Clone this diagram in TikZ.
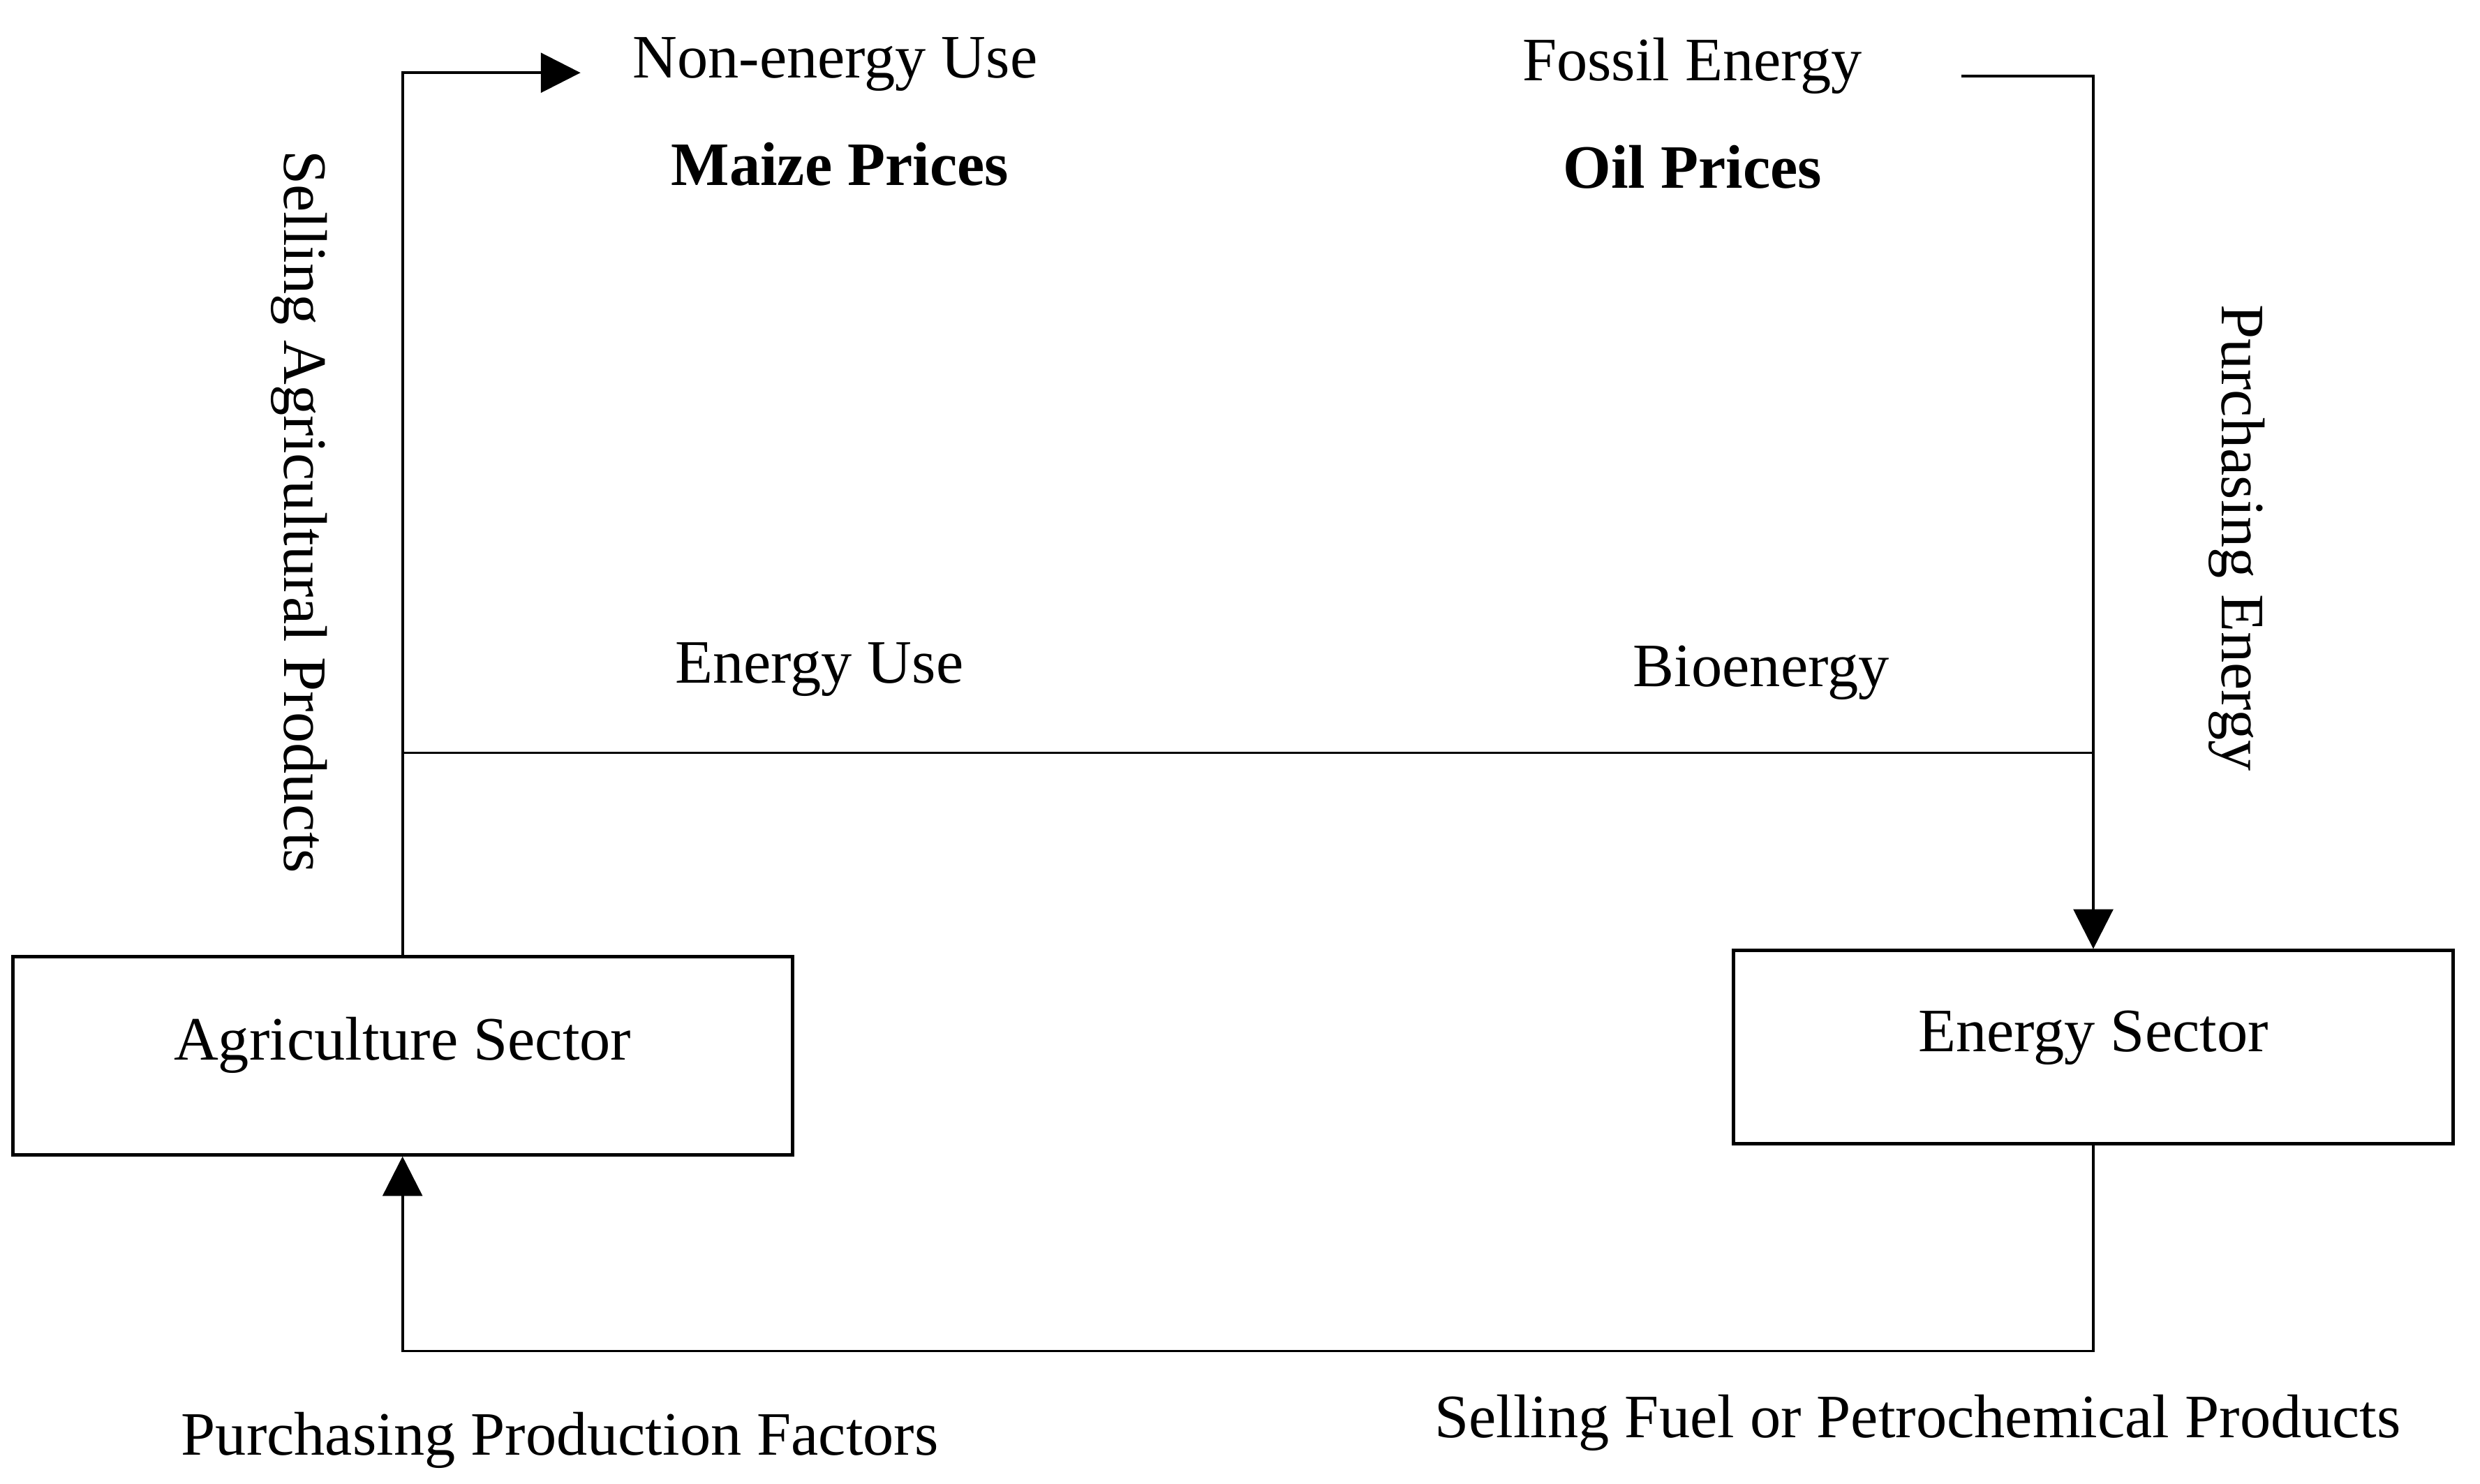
\documentclass[tikz,border=0pt]{standalone}
\usepackage{fontspec}
\setmainfont{Liberation Serif}
\usetikzlibrary{arrows.meta}
\begin{document}
\begin{tikzpicture}[x=0.5pt,y=-0.5pt,
  lbl/.style={font=\fontsize{19.5pt}{23pt}\selectfont, anchor=base, inner sep=0pt},
  blbl/.style={lbl, font=\fontsize{19.5pt}{23pt}\selectfont\bfseries},
  sector/.style={draw, line width=1.1pt, font=\fontsize{19.5pt}{23pt}\selectfont, inner sep=0pt},
  conn/.style={line width=0.8pt},
  arr/.style={conn, -{Triangle[length=12.5pt,width=12.5pt]}}]
\useasboundingbox[fill=white] (0,0) rectangle (1568,938);
% sector boxes
\node[sector, minimum width=246.5pt, minimum height=62.5pt, text height=12pt, text depth=9.5pt] (agri) at (254.5,667.5) {Agriculture Sector};
\node[sector, minimum width=227.5pt, minimum height=61pt, text height=12.5pt, text depth=9.5pt] (energy) at (1323.5,662) {Energy Sector};
% labels
\node[lbl] (nonenergy) at (528,49) {Non-energy Use};
\node[blbl] (maize) at (531,117) {Maize Prices};
\node[lbl] (fossil) at (1070,51) {Fossil Energy};
\node[blbl] (oil) at (1070,119) {Oil Prices};
\node[lbl] (energyuse) at (518,432) {Energy Use};
\node[lbl] (bio) at (1113.5,434) {Bioenergy};
\node[lbl] (ppf) at (354,920) {Purchasing Production Factors};
\node[lbl] (sfp) at (1212.5,909) {Selling Fuel or Petrochemical Products};
\node[lbl, rotate=-90] (sap) at (180,323.5) {Selling Agricultural Products};
\node[lbl, rotate=-90] (pe) at (1405,340) {Purchasing Energy};
% coordinates
\coordinate (tipNE) at (367,46);
\coordinate (startFE) at (1240,48);
\coordinate (hL) at (254.5,476);
\coordinate (hR) at (1323.5,476);
% connectors
\draw[arr] (agri.north) |- (tipNE);
\draw[arr] (startFE) -| (energy.north);
\draw[conn] (hL) -- (hR);
\draw[arr] (energy.south) -- ++(0,130) -| (agri.south);
\end{tikzpicture}
\end{document}
